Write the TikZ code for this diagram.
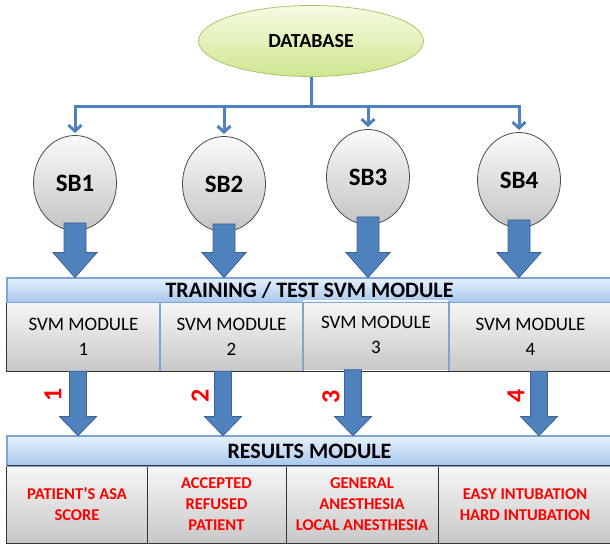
\documentclass[tikz,border=0pt]{standalone}
\usepackage{fontspec}
\setmainfont{Carlito}
\usetikzlibrary{arrows.meta,calc,shapes.geometric}
\definecolor{dbTop}  {HTML}{F6FBE4}
\definecolor{dbBot}  {HTML}{CFE78F}
\definecolor{dbLine} {HTML}{A9C66A}
\definecolor{sbTop}  {HTML}{FAFAFA}
\definecolor{sbBot}  {HTML}{C4C4C4}
\definecolor{feed}   {HTML}{4F81BD}
\definecolor{feedDk} {HTML}{3B6494}
\definecolor{barTop} {HTML}{E6F0FB}
\definecolor{barBot} {HTML}{A8C8EE}
\definecolor{barLine}{HTML}{7EA4D3}
\definecolor{cellTop}{HTML}{F6F6F6}
\definecolor{cellBot}{HTML}{C8C8C8}
\definecolor{outRed} {HTML}{FF0000}

% block arrow: #1 start, #2 end (only its y is used), #3 half shaft, #4 half head, #5 head length
\newcommand\blockarrow[5]{%
  \filldraw[fat] let \p1=(#1), \p2=(#2) in
    (\x1-#3,\y1) -- (\x1+#3,\y1) -- (\x1+#3,\y2+#5) -- (\x1+#4,\y2+#5)
    -- (\x1,\y2) -- (\x1-#4,\y2+#5) -- (\x1-#3,\y2+#5) -- cycle;}

\begin{document}
\begin{tikzpicture}[
  x=1pt,y=-1pt,
  >={Straight Barb[length=6pt,width=13pt]},
  db/.style={ellipse,draw=dbLine,line width=0.8pt,top color=dbTop,bottom color=dbBot,
             minimum width=225pt,minimum height=71pt,inner sep=0pt,
             font=\fontsize{20}{22}\selectfont\bfseries},
  sb/.style={ellipse,draw=black!70,line width=0.8pt,top color=sbTop,bottom color=sbBot,
             minimum width=83pt,minimum height=95pt,inner sep=0pt,
             font=\fontsize{25}{28}\selectfont\bfseries},
  link/.style={draw=feed,line width=3pt},
  fat/.style={fill=feed,draw=feedDk,line width=0.8pt,line join=miter},
  bar/.style={draw=barLine,line width=0.8pt,top color=barTop,bottom color=barBot,
              minimum width=605pt,inner sep=0pt,
              font=\fontsize{22}{24}\selectfont\bfseries},
  svmcell/.style={top color=cellTop,bottom color=cellBot,minimum height=69pt,inner sep=0pt,
              align=center,font=\fontsize{19}{25}\selectfont},
  outcell/.style={top color=cellTop,bottom color=cellBot,minimum height=77pt,inner sep=0pt,
              align=center,text=outRed,font=\fontsize{16.5}{21}\selectfont\bfseries},
  num/.style={text=outRed,rotate=90,inner sep=0pt,font=\fontsize{26}{26}\selectfont\bfseries},
  rowline/.style={draw=black!80,line width=0.8pt},
  divider/.style={draw=barLine,line width=1.6pt},
]
\useasboundingbox (0,0) rectangle (610,544);

% ---- database and its sub-bases -------------------------------------------
\node[db] (db) at (311,41) {DATABASE};

\node[sb] (sb1) at (75,183)  {SB1};
\node[sb] (sb2) at (224,184) {SB2};
\node[sb] (sb3) at (368,177) {SB3};
\node[sb] (sb4) at (519,180) {SB4};

\coordinate (hub) at (311,106);
\draw[link] (db.south) -- (hub);
\foreach \s in {sb1,sb2,sb3,sb4}
  \draw[link,->] (hub) -| ([yshift=2pt]\s.north);

% ---- training / test block ------------------------------------------------
\node[bar,minimum height=24pt] (train) at (309.5,290) {TRAINING / TEST SVM MODULE};

\node[svmcell,minimum width=153pt] (svm1) at (83.5,336.5) {SVM MODULE\\1};
\node[svmcell,minimum width=143pt] (svm2) at (231.5,336.5) {SVM MODULE\\2};
\node[svmcell,minimum width=146pt] (svm3) at (376,335) {SVM MODULE\\3};
\node[svmcell,minimum width=163pt] (svm4) at (530.5,336.5) {SVM MODULE\\4};
\draw[rowline] (train.south west) rectangle (svm4.south east);
\foreach \c in {svm1,svm2,svm3}
  \draw[divider] ([yshift=-0.4pt]\c.north east) -- ([yshift=0.4pt]\c.south east |- svm1.south);
\draw[bar,fill=none,shade=none] (train.north west) rectangle (train.south east);

% ---- sub-bases feed the modules -------------------------------------------
\foreach \s in {sb1,sb2,sb3,sb4}{
  \blockarrow{[yshift=8pt]\s.south}{train.north}{11pt}{22pt}{25pt}
}

% ---- results block --------------------------------------------------------
\node[bar,minimum height=30pt] (res) at (309.5,451) {RESULTS MODULE};

\node[outcell,minimum width=140pt] (out1) at (77,504.5)  {PATIENT’S ASA\\SCORE};
\node[outcell,minimum width=139pt] (out2) at (216.5,504.5) {ACCEPTED\\REFUSED\\PATIENT};
\node[outcell,minimum width=152pt] (out3) at (362,504.5) {GENERAL\\ANESTHESIA\\LOCAL ANESTHESIA};
\node[outcell,minimum width=174pt] (out4) at (525,504.5) {EASY INTUBATION\\HARD INTUBATION};
\draw[rowline] (out1.north west) rectangle (out4.south east);
\foreach \c in {out1,out2,out3}
  \draw[rowline] (\c.north east) -- (\c.south east);
\draw[bar,fill=none,shade=none] (res.north west) rectangle (res.south east);

% ---- modules feed the results (numbered) ----------------------------------
\blockarrow{[xshift=-5.5pt]svm1.south}{res.north}{8.5pt}{18.5pt}{19pt}
\blockarrow{[xshift=-8.5pt]svm2.south}{res.north}{8.5pt}{18.5pt}{19pt}
\blockarrow{[xshift=-23pt]svm3.south}{res.north}{8.5pt}{18.5pt}{19pt}
\blockarrow{[xshift=8.5pt]svm4.south}{res.north}{8.5pt}{18.5pt}{19pt}

\node[num] (n1) at (53,395)  {1};
\node[num] (n2) at (200,396) {2};
\node[num] (n3) at (331,397) {3};
\node[num] (n4) at (516,396) {4};

\end{tikzpicture}
\end{document}
